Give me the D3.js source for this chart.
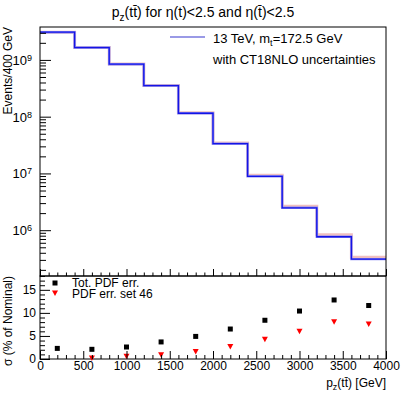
<!DOCTYPE html>
<html>
<head>
<meta charset="utf-8">
<script src="https://cdn.jsdelivr.net/npm/d3@7"></script>
<style>
  body { margin: 0; background: #fff; }
  text { font-family: "Liberation Sans", Arial, Helvetica, sans-serif; fill: #000; }
</style>
</head>
<body>
<div id="chart"></div>
<script>
// bins of 400 GeV, lower edges
var binLow = [0, 400, 800, 1200, 1600, 2000, 2400, 2800, 3200, 3600];
var binWidth = 400;
// nominal events per bin
var nominal = [3.08e9, 1.65e9, 8.4e8, 3.52e8, 1.15e8, 3.34e7, 8.9e6, 2.48e6, 7.66e5, 3.09e5];
// relative uncertainties in %
var totPdfErr = [2.3, 2.1, 2.6, 3.7, 4.9, 6.5, 8.4, 10.4, 12.8, 11.6];
var set46Err = [null, 0.2, 0.6, 0.9, 1.6, 2.7, 4.3, 6.0, 8.1, 7.6];

var xMajor = [0, 500, 1000, 1500, 2000, 2500, 3000, 3500, 4000];
var yTopMajor = [1e6, 1e7, 1e8, 1e9];
var yBotMajor = [0, 5, 10, 15];

var svgWidth = 407, svgHeight = 395;
var left = 40, right = 386;
var topY0 = 27, split = 276, botY1 = 359;

var svg = d3.select('#chart').append('svg')
  .attr('width', svgWidth)
  .attr('height', svgHeight);

var x = d3.scaleLinear().domain([0, 4000]).range([left, right]);
var yTop = d3.scaleLog().domain([1.56e5, 3.8e9]).range([split, topY0]);
var yBot = d3.scaleLinear().domain([0, 18]).range([botY1, split]);

// minor ticks
var xMinor = d3.range(0, 4001, 100).filter(v => v % 500 !== 0);
var yTopMinor = [];
[1e5, 1e6, 1e7, 1e8, 1e9].forEach(function(d) {
  for (var k = 2; k <= 9; k++) {
    var v = d * k;
    if (v >= yTop.domain()[0] && v <= yTop.domain()[1]) yTopMinor.push(v);
  }
});
var yBotMinor = d3.range(0, 19, 1).filter(v => v % 5 !== 0);

// histogram step path
function stepPath(vals, y) {
  var p = d3.path();
  vals.forEach(function(v, i) {
    var x0 = x(binLow[i]), x1 = x(binLow[i] + binWidth);
    if (i === 0) p.moveTo(x0, y(v)); else p.lineTo(x0, y(v));
    p.lineTo(x1, y(v));
  });
  return p.toString();
}

svg.append('clipPath').attr('id', 'clipTop')
  .append('rect').attr('x', left).attr('y', topY0)
  .attr('width', right - left).attr('height', split - topY0);

var plot = svg.append('g').attr('clip-path', 'url(#clipTop)');

// set 46 variation
var varied = nominal.map((v, i) => v * (1 + (set46Err[i] || 0) / 100));
plot.append('path')
  .attr('d', stepPath(varied, yTop))
  .attr('fill', 'none')
  .attr('stroke', '#e08080')
  .attr('stroke-opacity', 0.5)
  .attr('stroke-width', 3);

plot.append('path')
  .attr('d', stepPath(nominal, yTop))
  .attr('fill', 'none')
  .attr('stroke', '#8c8cf2')
  .attr('stroke-width', 2.4);

plot.append('path')
  .attr('d', stepPath(nominal, yTop))
  .attr('fill', 'none')
  .attr('stroke', '#1414e6')
  .attr('stroke-width', 1.3);

// frames
[[topY0, split], [split, botY1]].forEach(function(r) {
  svg.append('rect')
    .attr('x', left).attr('y', r[0])
    .attr('width', right - left).attr('height', r[1] - r[0])
    .attr('fill', 'none').attr('stroke', '#000').attr('stroke-width', 1);
});

function cleanAxis(g) {
  g.select('.domain').remove();
  g.selectAll('line').attr('stroke', '#000');
}

function noLabels(g) {
  cleanAxis(g);
  g.selectAll('.tick text').remove();
}

// top panel x ticks (no labels)
svg.append('g').attr('transform', `translate(0,${split})`)
  .call(d3.axisBottom(x).tickValues(xMajor).tickSize(-7))
  .call(noLabels);
svg.append('g').attr('transform', `translate(0,${split})`)
  .call(d3.axisBottom(x).tickValues(xMinor).tickSize(-3.5))
  .call(noLabels);

// top panel y axis
var yTopAxis = svg.append('g').attr('transform', `translate(${left},0)`)
  .call(d3.axisLeft(yTop).tickValues(yTopMajor).tickSize(-11).tickPadding(8).tickFormat(''))
  .call(cleanAxis);
yTopAxis.selectAll('.tick text')
  .attr('font-size', 13)
  .attr('dy', '0.35em')
  .each(function(d) {
    var t = d3.select(this);
    t.append('tspan').text('10');
    t.append('tspan').attr('dy', '-0.45em').attr('font-size', 9).text(Math.round(Math.log10(d)));
  });
svg.append('g').attr('transform', `translate(${left},0)`)
  .call(d3.axisLeft(yTop).tickValues(yTopMinor).tickSize(-6))
  .call(noLabels);

// bottom panel points
svg.append('g').selectAll('rect')
  .data(totPdfErr)
  .enter().append('rect')
  .attr('x', (d, i) => x(binLow[i] + binWidth / 2) - 2.5)
  .attr('y', d => yBot(d) - 2.5)
  .attr('width', 5).attr('height', 5)
  .attr('fill', '#000');

svg.append('g').selectAll('path')
  .data(set46Err.map((v, i) => ({ v: v, i: i })).filter(d => d.v !== null))
  .enter().append('path')
  .attr('d', function(d) {
    var cx = x(binLow[d.i] + binWidth / 2), cy = yBot(d.v);
    return `M${cx - 3},${cy - 2.5}L${cx + 3},${cy - 2.5}L${cx},${cy + 3}Z`;
  })
  .attr('fill', '#ff0000');

// bottom panel x axis
svg.append('g').attr('transform', `translate(0,${botY1})`)
  .call(d3.axisBottom(x).tickValues(xMajor).tickSize(-8).tickPadding(2).tickFormat(d3.format('d')))
  .call(cleanAxis)
  .selectAll('text').attr('font-size', 12).attr('dy', '0.75em');
svg.append('g').attr('transform', `translate(0,${botY1})`)
  .call(d3.axisBottom(x).tickValues(xMinor).tickSize(-4))
  .call(noLabels);

// bottom panel y axis
svg.append('g').attr('transform', `translate(${left},0)`)
  .call(d3.axisLeft(yBot).tickValues(yBotMajor).tickSize(-10).tickPadding(4).tickFormat(d3.format('d')))
  .call(cleanAxis)
  .selectAll('text').attr('font-size', 12);
svg.append('g').attr('transform', `translate(${left},0)`)
  .call(d3.axisLeft(yBot).tickValues(yBotMinor).tickSize(-5))
  .call(noLabels);

// title
var title = svg.append('text')
  .attr('x', 203).attr('y', 17)
  .attr('text-anchor', 'middle')
  .attr('font-size', 14);
title.append('tspan').text('p');
title.append('tspan').attr('font-size', 10).attr('dy', 4).text('z');
title.append('tspan').attr('dy', -4).text('(tt\u0304) for \u03b7(t)<2.5 and \u03b7(t\u0304)<2.5');

// axis titles
svg.append('text')
  .attr('transform', `translate(12,${topY0}) rotate(-90)`)
  .attr('text-anchor', 'end')
  .attr('font-size', 12)
  .text('Events/400 GeV');

svg.append('text')
  .attr('transform', `translate(12,${split}) rotate(-90)`)
  .attr('text-anchor', 'end')
  .attr('font-size', 12)
  .text('\u03c3 (% of Nominal)');

var xt = svg.append('text')
  .attr('x', right).attr('y', 387)
  .attr('text-anchor', 'end')
  .attr('font-size', 12);
xt.append('tspan').text('p');
xt.append('tspan').attr('font-size', 9).attr('dy', 3).text('z');
xt.append('tspan').attr('dy', -3).text('(tt\u0304) [GeV]');

// top legend
svg.append('line')
  .attr('x1', 170).attr('x2', 205).attr('y1', 37).attr('y2', 37)
  .attr('stroke', '#9a9ae6').attr('stroke-width', 2);
var lg1 = svg.append('text').attr('x', 213).attr('y', 43).attr('font-size', 13);
lg1.append('tspan').text('13 TeV, m');
lg1.append('tspan').attr('font-size', 9).attr('dy', 3).text('t');
lg1.append('tspan').attr('dy', -3).text('=172.5 GeV');
svg.append('text').attr('x', 213).attr('y', 64).attr('font-size', 13)
  .text('with CT18NLO uncertainties');

// bottom legend
svg.append('rect').attr('x', 52.5).attr('y', 280.5).attr('width', 5).attr('height', 5).attr('fill', '#000');
svg.append('path').attr('d', 'M52,290.5L58,290.5L55,296Z').attr('fill', '#ff0000');
svg.append('text').attr('x', 72).attr('y', 287).attr('font-size', 12).text('Tot. PDF err.');
svg.append('text').attr('x', 72).attr('y', 297.5).attr('font-size', 12).text('PDF err. set 46');
</script>
</body>
</html>
